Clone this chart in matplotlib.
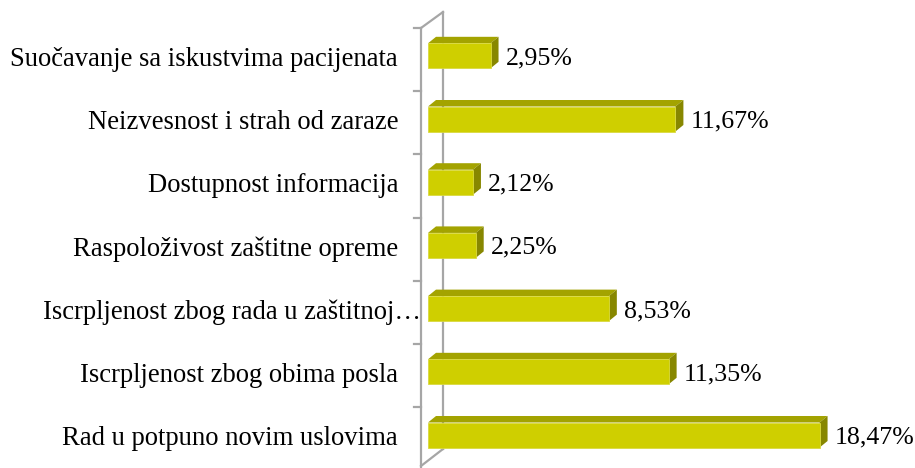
import numpy as np
import matplotlib
matplotlib.use("Agg")
import matplotlib.pyplot as plt
from matplotlib.patches import Polygon

plt.rcParams['font.family'] = ['Liberation Serif', 'DejaVu Serif']

categories = ["Rad u potpuno novim uslovima",
              "Iscrpljenost zbog obima posla",
              "Iscrpljenost zbog rada u zaštitnoj…",
              "Raspoloživost zaštitne opreme",
              "Dostupnost informacija",
              "Neizvesnost i strah od zaraze",
              "Suočavanje sa iskustvima pacijenata"]
values = [18.47, 11.35, 8.53, 2.25, 2.12, 11.67, 2.95]
value_labels = ["18,47%", "11,35%", "8,53%", "2,25%", "2,12%", "11,67%", "2,95%"]

W, H = 915, 468
px_per_unit = 21.2
row_px = 63.2

fig = plt.figure(figsize=(W / 100, H / 100), dpi=100)
ax_left, ax_top = 428, 28
ax_h = 7 * row_px
ax_w = W - ax_left
ax = fig.add_axes([ax_left / W, (H - ax_top - ax_h) / H, ax_w / W, ax_h / H])
ax.set_xlim(0, ax_w / px_per_unit)
ax.set_ylim(-0.5, 6.5)
ax.axis("off")

front_col = "#CFCF00"
top_col = "#A3A300"
side_col = "#878700"
wall_col = "#A6A6A6"

dx = 8 / px_per_unit
dy = 6.5 / row_px
off = 0.06
bh = 25 / row_px

# wall (3d frame on the left)
def px2x(p):
    return (p - ax_left) / px_per_unit

def py2y(p):
    return 6.5 - (p - ax_top) / row_px

xf, xb = px2x(421), px2x(443)
wall_kw = dict(color=wall_col, lw=1.6, clip_on=False, zorder=1)
ax.plot([xf, xf], [py2y(28), py2y(470)], **wall_kw)
ax.plot([xb, xb], [py2y(12), py2y(449)], **wall_kw)
ax.plot([xf, xb], [py2y(28), py2y(12)], **wall_kw)
ax.plot([xb, xf], [py2y(449), py2y(466)], **wall_kw)
for k in range(-1, 7):
    ax.plot([px2x(414), xf], [k + 0.5, k + 0.5], **wall_kw)

y = np.arange(len(categories))
ax.barh(y + off, values, height=bh, color=front_col, edgecolor="#DADA40",
        linewidth=0.6, zorder=3)
for yi, v, lab, cat in zip(y, values, value_labels, categories):
    yb = yi + off - bh / 2
    yt = yi + off + bh / 2
    ax.add_patch(Polygon([(0, yt), (v, yt), (v + dx, yt + dy), (dx, yt + dy)],
                         closed=True, facecolor=top_col, edgecolor="none",
                         zorder=2, clip_on=False))
    ax.add_patch(Polygon([(v, yb), (v + dx, yb + dy), (v + dx, yt + dy), (v, yt)],
                         closed=True, facecolor=side_col, edgecolor="none",
                         zorder=2, clip_on=False))
    ax.text(v + dx + 7 / px_per_unit, yi + 0.02, lab, ha="left", va="center",
            fontsize=18.6, color="black", clip_on=False)
    # the truncated label runs right up to the wall
    right_px = 421 if cat.endswith("…") else 398
    ax.text(px2x(right_px), yi, cat, ha="right", va="center", fontsize=19.2,
            color="black", clip_on=False, zorder=0)

fig.savefig("out.png", dpi=100)
